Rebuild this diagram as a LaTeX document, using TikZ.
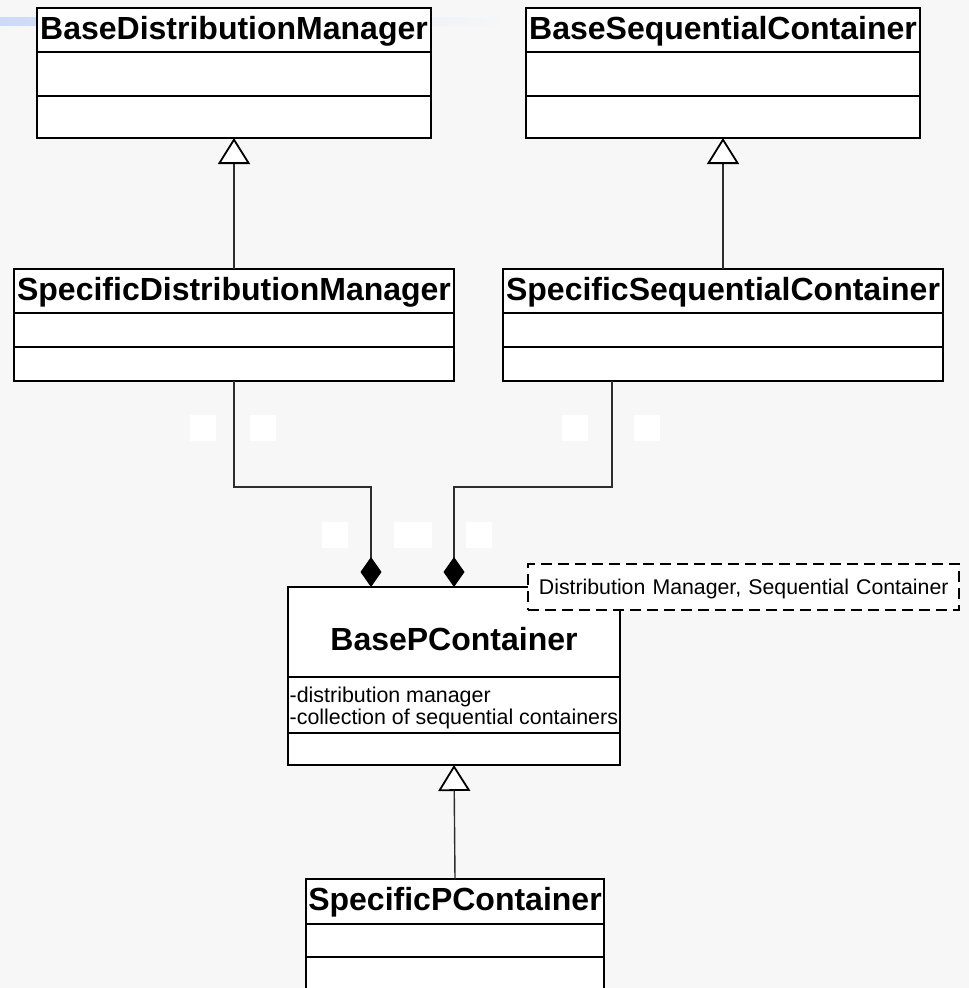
\documentclass[tikz,border=0pt]{standalone}
\usepackage{fontspec}
\setmainfont{Liberation Sans}
\usetikzlibrary{arrows.meta}

\definecolor{canvas}{RGB}{247,247,247}
\definecolor{barblue}{RGB}{205,218,246}
\definecolor{wire}{RGB}{45,45,45}

% one UML class: id, left x, top y, width, height, divider 1 y, divider 2 y, name
\newcommand{\drawclass}[8]{%
  \node[classbox, minimum width=#4pt, minimum height=#5pt] (#1) at (#2,#3) {};
  \draw[divider] (#1.west |- 0,#6) -- (#1.east |- 0,#6);
  \draw[divider] (#1.west |- 0,#7) -- (#1.east |- 0,#7);
  \node[classname] (#1-name) at ([yshift=-31pt]#1.north) {#8};
}

\begin{document}
\begin{tikzpicture}[x=1pt,y=-1pt,
  classbox/.style={draw=black, line width=1.8pt, fill=white, inner sep=0pt,
    outer sep=0pt, anchor=north west},
  divider/.style={draw=black, line width=1.8pt},
  classname/.style={font=\fontsize{32}{38}\selectfont\bfseries, inner sep=0pt,
    anchor=base},
  attr/.style={font=\fontsize{21.4}{25}\selectfont, inner sep=0pt,
    anchor=base west},
  gen/.style={draw=wire, line width=1.4pt,
    -{Triangle[length=26pt, width=32pt, color=black, fill=white, line width=1.8pt]}},
  comp/.style={draw=wire, line width=1.4pt,
    -{Diamond[length=30pt, width=21pt, color=black, fill=black]}},
  notebox/.style={draw=black, line width=1.8pt, dash pattern=on 11pt off 6pt,
    fill=white, anchor=north west, minimum width=431pt, minimum height=46pt,
    text width=409pt, inner xsep=11pt, inner ysep=0pt, text height=15.3pt,
    text depth=0pt, align=left, font=\fontsize{21.3}{25}\selectfont},
  blank/.style={fill=white}
]
\useasboundingbox (0,0) rectangle (969,988);
\clip (0,0) rectangle (969,988);
\fill[canvas] (0,0) rectangle (969,988);

% faded title bar behind the top left class
\shade[left color=barblue, right color=canvas] (0,17) rectangle (510,25);

% classes
\drawclass{bdm}{37}{8}{394}{130}{52}{96}{BaseDistributionManager}
\drawclass{bsc}{526}{8}{394}{130}{52}{96}{BaseSequentialContainer}
\drawclass{sdm}{14}{269}{440}{112}{313}{347}{SpecificDistributionManager}
\drawclass{ssc}{503}{269}{440}{112}{313}{347}{SpecificSequentialContainer}
\drawclass{spc}{306}{879}{298}{121}{924}{957}{SpecificPContainer}

% the composite class with its attributes
\node[classbox, minimum width=332pt, minimum height=178pt] (bpc) at (288,587) {};
\draw[divider] (bpc.west |- 0,677) -- (bpc.east |- 0,677);
\draw[divider] (bpc.west |- 0,733) -- (bpc.east |- 0,733);
\node[classname] (bpc-name) at (454,650) {BasePContainer};
\node[attr] (bpc-attr1) at (289.5,702) {-distribution manager};
\node[attr] (bpc-attr2) at (289.5,724) {-collection of sequential containers};

% template parameter note
\node[notebox] (note) at (527,563) {\mbox{Distribution Manager, Sequential Container}};

% generalizations
\draw[gen] (sdm.north) -- (bdm.south);
\draw[gen] (ssc.north) -- (bsc.south);
\draw[gen] (spc.north) -- (bpc.south);

% compositions
\coordinate (ml) at (371,487);
\coordinate (sr) at (612,487);
\coordinate (mr) at (454,487);
\draw[comp] (sdm.south) |- (ml) -- (ml |- bpc.north);
\draw[comp] (ssc.south -| sr) -- (sr) -- (mr) -- (mr |- bpc.north);

% blanked multiplicity labels
\fill[blank] (190,415) rectangle (216,441);
\fill[blank] (250,415) rectangle (276,441);
\fill[blank] (562,415) rectangle (588,441);
\fill[blank] (634,415) rectangle (660,441);
\fill[blank] (322,522) rectangle (348,548);
\fill[blank] (394,522) rectangle (432,548);
\fill[blank] (466,522) rectangle (492,548);
\end{tikzpicture}
\end{document}
